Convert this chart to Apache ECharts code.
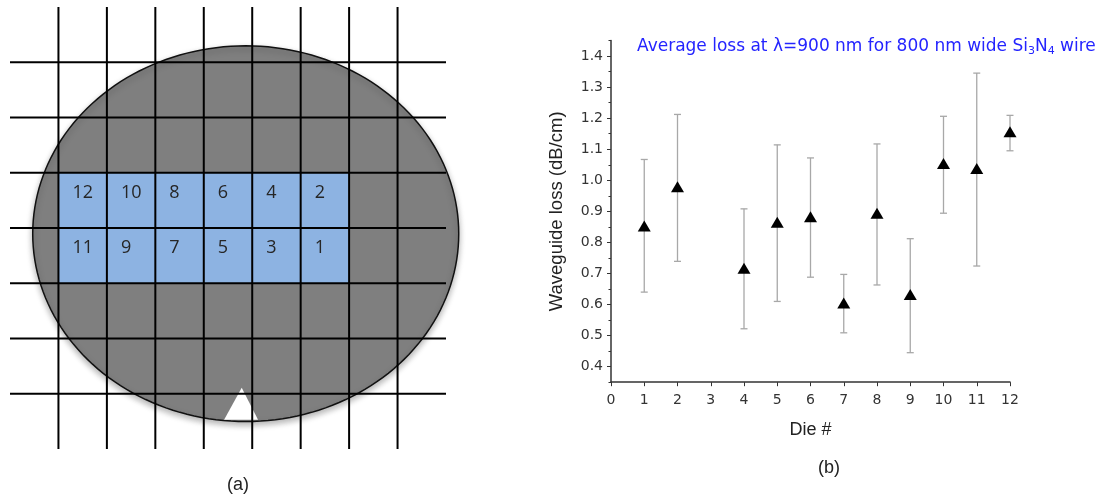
<!DOCTYPE html>
<html>
<head>
<meta charset="utf-8">
<style>
html, body { margin: 0; padding: 0; background: #fff; }
#chart { width: 1103px; height: 495px; }
</style>
<script src="https://cdn.jsdelivr.net/npm/echarts@6/dist/echarts.min.js"></script>
</head>
<body>
<div id="chart"></div>
<script>
// (b) average loss per die, with error bar ends
var dies = [1, 2, 4, 5, 6, 7, 8, 9, 10, 11, 12];
var lossMean = [0.853, 0.979, 0.717, 0.865, 0.883, 0.605, 0.894, 0.632, 1.054, 1.038, 1.156];
var lossLow = [0.640, 0.739, 0.522, 0.610, 0.688, 0.509, 0.663, 0.445, 0.894, 0.724, 1.095];
var lossHigh = [1.067, 1.212, 0.908, 1.114, 1.072, 0.697, 1.117, 0.812, 1.206, 1.345, 1.209];
var yTicks = [0.4, 0.5, 0.6, 0.7, 0.8, 0.9, 1.0, 1.1, 1.2, 1.3, 1.4];
var yMinorTicks = [0.35, 0.45, 0.55, 0.65, 0.75, 0.85, 0.95, 1.05, 1.15, 1.25, 1.35, 1.45];

// (a) wafer map: die numbers and their cell (column, row)
var dieLabels = [12, 10, 8, 6, 4, 2, 11, 9, 7, 5, 3, 1];
var dieCols = [0, 1, 2, 3, 4, 5, 0, 1, 2, 3, 4, 5];
var dieRows = [2, 2, 2, 2, 2, 2, 3, 3, 3, 3, 3, 3];
var gridCols = [0, 1, 2, 3, 4, 5, 6, 7];
var gridRows = [0, 1, 2, 3, 4, 5, 6];

(function() {
  var chart = echarts.init(document.getElementById('chart'), null, { renderer: 'canvas' });
  var sans = '"Liberation Sans", Arial, sans-serif';
  var wide = '"DejaVu Sans", sans-serif';
  var blue = '#2424ff';

  // wafer outline in cell units: centre, radii, notch
  var wafer = { cx: 3.866, cy: 3.103, rx: 4.397, ry: 3.40 };
  var notch = [[3.42, 6.47], [3.783, 5.89], [4.12, 6.47]];

  var cells = dieLabels.map(function(d, i) { return [dieCols[i], dieRows[i], d]; });
  var lines = gridCols.map(function(c) { return [c, -1, c, 7]; })
    .concat(gridRows.map(function(r) { return [-1, r, 8, r]; }));
  var bars = dies.map(function(d, i) { return [d, lossLow[i], lossHigh[i]]; });
  var points = dies.map(function(d, i) { return [d, lossMean[i]]; });

  chart.setOption({
    animation: false,
    title: [
      {
        text: '{t|Average loss at λ=900 nm for 800 nm wide Si}{s|3}{t|N}{s|4}{t| wire}',
        left: 632, top: 31,
        textStyle: {
          rich: {
            t: { fontFamily: wide, fontSize: 17, fontWeight: 'normal', color: blue },
            s: { fontFamily: wide, fontSize: 11, fontWeight: 'normal', color: blue, padding: [10, 0, 0, 0] }
          }
        }
      },
      { text: '(a)', left: 222, top: 471, textStyle: { fontFamily: sans, fontSize: 18, fontWeight: 'normal', color: '#222' } },
      { text: '(b)', left: 813, top: 454, textStyle: { fontFamily: sans, fontSize: 18, fontWeight: 'normal', color: '#222' } }
    ],
    grid: [
      { left: 611, top: 40.5, width: 399, height: 341.7, outerBoundsMode: 'none' },
      { left: 10, top: 7, width: 436, height: 442, outerBoundsMode: 'none' }
    ],
    xAxis: [
      {
        gridIndex: 0, type: 'value', min: 0, max: 12, interval: 1,
        name: 'Die #', nameLocation: 'middle', nameGap: 39,
        nameTextStyle: { fontFamily: sans, fontSize: 18, color: '#222' },
        axisLine: { show: true, lineStyle: { color: '#333', width: 1.5 } },
        axisTick: { show: true, length: 4, lineStyle: { color: '#333' } },
        axisLabel: { fontFamily: wide, fontSize: 14, color: '#333', margin: 11 },
        splitLine: { show: false }
      },
      { gridIndex: 1, type: 'value', min: -1, max: 8, show: false }
    ],
    yAxis: [
      {
        gridIndex: 0, type: 'value', min: 0.35, max: 1.45,
        name: 'Waveguide loss (dB/cm)', nameLocation: 'middle', nameGap: 45,
        nameTextStyle: { fontFamily: sans, fontSize: 18.5, color: '#222' },
        axisLine: { show: true, lineStyle: { color: '#333', width: 1.5 } },
        axisTick: { show: true, length: 4, customValues: yTicks, lineStyle: { color: '#333' } },
        axisLabel: {
          customValues: yTicks, fontFamily: wide, fontSize: 14, color: '#333', margin: 8,
          formatter: function(v) { return v.toFixed(1); }
        },
        splitLine: { show: false }
      },
      {
        gridIndex: 0, type: 'value', min: 0.35, max: 1.45, position: 'left',
        axisLine: { show: false },
        axisTick: { show: true, length: 2.5, customValues: yMinorTicks, lineStyle: { color: '#333' } },
        axisLabel: { show: false },
        splitLine: { show: false }
      },
      { gridIndex: 1, type: 'value', min: -1, max: 7, inverse: true, show: false }
    ],
    series: [
      {
        // wafer disc
        type: 'custom', xAxisIndex: 1, yAxisIndex: 2, z: 1,
        data: [[wafer.cx, wafer.cy]],
        renderItem: function(params, api) {
          var pts = [];
          for (var k = 0; k < 180; k++) {
            var a = k / 180 * Math.PI * 2;
            pts.push(api.coord([wafer.cx + wafer.rx * Math.cos(a), wafer.cy + wafer.ry * Math.sin(a)]));
          }
          return {
            type: 'polygon', shape: { points: pts },
            style: { fill: '#7f7f7f', stroke: '#111', lineWidth: 1.5,
              shadowBlur: 6, shadowOffsetY: 3, shadowColor: 'rgba(0,0,0,0.3)' }
          };
        }
      },
      {
        // notch
        type: 'custom', xAxisIndex: 1, yAxisIndex: 2, z: 2,
        data: [[notch[1][0], notch[1][1]]],
        renderItem: function(params, api) {
          return {
            type: 'polygon',
            shape: { points: notch.map(function(p) { return api.coord(p); }) },
            style: { fill: '#fff' }
          };
        }
      },
      {
        // measured dies
        type: 'custom', xAxisIndex: 1, yAxisIndex: 2, z: 3,
        data: cells,
        renderItem: function(params, api) {
          var col = api.value(0), row = api.value(1);
          var p0 = api.coord([col, row]);
          var p1 = api.coord([col + 1, row + 1]);
          return {
            type: 'group',
            children: [
              { type: 'rect', shape: { x: p0[0], y: p0[1], width: p1[0] - p0[0], height: p1[1] - p0[1] },
                style: { fill: '#8db3e2' } },
              { type: 'text', x: p0[0] + 14, y: p0[1] + 20,
                style: { text: String(api.value(2)), font: '18px "Open Sans"', fill: '#262626',
                  align: 'left', verticalAlign: 'middle' } }
            ]
          };
        }
      },
      {
        // die grid
        type: 'custom', xAxisIndex: 1, yAxisIndex: 2, z: 4,
        data: lines,
        renderItem: function(params, api) {
          var a = api.coord([api.value(0), api.value(1)]);
          var b = api.coord([api.value(2), api.value(3)]);
          return {
            type: 'line', shape: { x1: a[0], y1: a[1], x2: b[0], y2: b[1] },
            style: { stroke: '#000', lineWidth: 2 }
          };
        }
      },
      {
        // error bars
        type: 'custom', xAxisIndex: 0, yAxisIndex: 0, z: 2,
        data: bars,
        renderItem: function(params, api) {
          var lo = api.coord([api.value(0), api.value(1)]);
          var hi = api.coord([api.value(0), api.value(2)]);
          var w = 3.5;
          var st = { stroke: '#a8a8a8', lineWidth: 1.3 };
          return {
            type: 'group',
            children: [
              { type: 'line', shape: { x1: lo[0], y1: lo[1], x2: hi[0], y2: hi[1] }, style: st },
              { type: 'line', shape: { x1: lo[0] - w, y1: lo[1], x2: lo[0] + w, y2: lo[1] }, style: st },
              { type: 'line', shape: { x1: hi[0] - w, y1: hi[1], x2: hi[0] + w, y2: hi[1] }, style: st }
            ]
          };
        }
      },
      {
        type: 'scatter', xAxisIndex: 0, yAxisIndex: 0, z: 3,
        data: points,
        symbol: 'triangle', symbolSize: [13, 11],
        itemStyle: { color: '#000', opacity: 1 }
      }
    ]
  });

  window.addEventListener('resize', function() { chart.resize(); });
})();
</script>
</body>
</html>
